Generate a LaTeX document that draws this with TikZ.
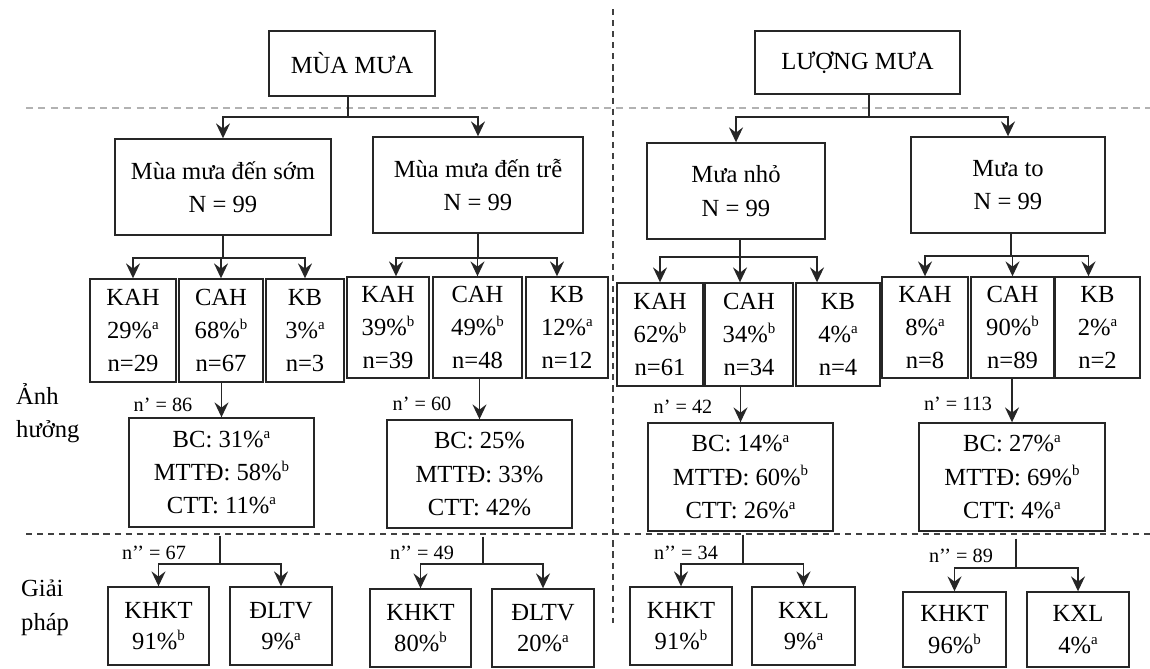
\documentclass[tikz,border=0pt]{standalone}
\usepackage{fontspec}
\setmainfont{Liberation Serif}
\usepackage{tikz}
\usetikzlibrary{arrows.meta,calc}

\newcommand{\supx}[1]{\raisebox{0.8ex}{\fontsize{8.5}{8.5}\selectfont #1}}

\begin{document}
\begin{tikzpicture}[>={Stealth[length=8.5pt,width=8pt,inset=3pt]},
  box/.style={draw=black!85,line width=0.8pt,align=center,inner sep=0pt,font=\fontsize{14}{19}\selectfont},
  nlbl/.style={font=\fontsize{11.5}{13}\selectfont},
  side/.style={anchor=west,align=left,font=\fontsize{14}{19}\selectfont},
  link/.style={line width=0.8pt,black!85}]
  \useasboundingbox (0,0) rectangle (23,-13.36);
  % separators
  \draw[gray!60,line width=1pt,dash pattern=on 4pt off 3pt] (0.52,-2.16)--(23,-2.16);
  \draw[black!75,line width=0.9pt,dash pattern=on 3.5pt off 2.8pt] (0.52,-10.68)--(23,-10.68);
  \draw[black!75,line width=0.9pt,dash pattern=on 3.5pt off 2.8pt] (12.26,-0.18)--(12.26,-12.46);
  \node[side] (anh) at (0.2,-8.26) {Ảnh\\hưởng};
  \node[side] (giai) at (0.3,-12.16) {Giải\\pháp};

  % top
  \node[box,minimum width=3.32cm,minimum height=1.30cm] (mua) at (7.04,-1.27) {MÙA MƯA};
  \node[box,minimum width=4.10cm,minimum height=1.26cm] (luong) at (17.15,-1.25) {LƯỢNG MƯA};

  \node[box,minimum width=4.32cm,minimum height=1.92cm] (som) at (4.46,-3.74) {Mùa mưa đến sớm\\N = 99};
  \node[box,minimum width=4.20cm,minimum height=1.92cm] (tre) at (9.56,-3.70) {Mùa mưa đến trễ\\N = 99};
  \node[box,minimum width=3.56cm,minimum height=1.92cm] (nho) at (14.72,-3.82) {Mưa nhỏ\\N = 99};
  \node[box,minimum width=3.88cm,minimum height=1.92cm] (lon) at (20.16,-3.70) {Mưa to\\N = 99};

  \coordinate (mj) at (6.96,-2.34);
  \draw[link] (mj |- mua.south) -- (mj);
  \draw[link,->] (mj) -| (som.north);
  \draw[link,->] (mj) -| (tre.north);
  \coordinate (lj) at (17.38,-2.34);
  \draw[link] (lj |- luong.south) -- (lj);
  \draw[link,->] (lj) -| (nho.north);
  \draw[link,->] (lj) -| (lon.north);

  % groups
  \node[box,minimum width=1.72cm,minimum height=2.06cm] (kah1) at (2.66,-6.61) {KAH\\29\%\supx{a}\\n=29};
  \node[box,minimum width=1.68cm,minimum height=2.06cm] (cah1) at (4.42,-6.61) {CAH\\68\%\supx{b}\\n=67};
  \node[box,minimum width=1.56cm,minimum height=2.06cm] (kb1) at (6.10,-6.61) {KB\\3\%\supx{a}\\n=3};
  \node[box,minimum width=1.64cm,minimum height=2.02cm] (kah2) at (7.76,-6.55) {KAH\\39\%\supx{b}\\n=39};
  \node[box,minimum width=1.78cm,minimum height=2.02cm] (cah2) at (9.55,-6.55) {CAH\\49\%\supx{b}\\n=48};
  \node[box,minimum width=1.64cm,minimum height=2.02cm] (kb2) at (11.34,-6.55) {KB\\12\%\supx{a}\\n=12};
  \node[box,minimum width=1.72cm,minimum height=2.06cm] (kah3) at (13.20,-6.69) {KAH\\62\%\supx{b}\\n=61};
  \node[box,minimum width=1.76cm,minimum height=2.06cm] (cah3) at (14.98,-6.69) {CAH\\34\%\supx{b}\\n=34};
  \node[box,minimum width=1.68cm,minimum height=2.06cm] (kb3) at (16.76,-6.69) {KB\\4\%\supx{a}\\n=4};
  \node[box,minimum width=1.72cm,minimum height=2.02cm] (kah4) at (18.50,-6.55) {KAH\\8\%\supx{a}\\n=8};
  \node[box,minimum width=1.66cm,minimum height=2.02cm] (cah4) at (20.25,-6.55) {CAH\\90\%\supx{b}\\n=89};
  \node[box,minimum width=1.70cm,minimum height=2.02cm] (kb4) at (21.95,-6.55) {KB\\2\%\supx{a}\\n=2};

  \coordinate (sj) at (4.46,-5.16);
  \draw[link] (som.south) -- (sj);
  \draw[link,->] (sj) -| (kah1.north);
  \draw[link,->] (sj) -| (cah1.north);
  \draw[link,->] (sj) -| (kb1.north);
  \coordinate (tj) at (9.56,-5.16);
  \draw[link] (tre.south) -- (tj);
  \draw[link,->] (tj) -| ([xshift=0.16cm]kah2.north);
  \draw[link,->] (tj) -| (cah2.north);
  \draw[link,->] (tj) -| ([xshift=-0.2cm]kb2.north);
  \coordinate (nj) at (14.80,-5.14);
  \draw[link] (nj |- nho.south) -- (nj);
  \draw[link,->] (nj) -| (kah3.north);
  \draw[link,->] (nj) -| ([xshift=-0.18cm]cah3.north);
  \draw[link,->] (nj) -| ([xshift=-0.42cm]kb3.north);
  \coordinate (oj) at (20.22,-5.12);
  \draw[link] (oj |- lon.south) -- (oj);
  \draw[link,->] (oj) -| (kah4.north);
  \draw[link,->] (oj) -| (cah4.north);
  \draw[link,->] (oj) -| ([xshift=-0.18cm]kb4.north);

  % effects
  \node[box,minimum width=3.70cm,minimum height=2.18cm] (eff1) at (4.43,-9.45) {BC: 31\%\supx{a}\\MTTĐ: 58\%\supx{b}\\CTT: 11\%\supx{a}};
  \node[box,minimum width=3.70cm,minimum height=2.16cm] (eff2) at (9.59,-9.48) {BC: 25\%\\MTTĐ: 33\%\\CTT: 42\%};
  \node[box,minimum width=3.70cm,minimum height=2.16cm] (eff3) at (14.81,-9.54) {BC: 14\%\supx{a}\\MTTĐ: 60\%\supx{b}\\CTT: 26\%\supx{a}};
  \node[box,minimum width=3.72cm,minimum height=2.16cm] (eff4) at (20.24,-9.54) {BC: 27\%\supx{a}\\MTTĐ: 69\%\supx{b}\\CTT: 4\%\supx{a}};
  \draw[link,->] (eff1.north |- cah1.south) -- (eff1.north);
  \draw[link,->] (eff2.north |- cah2.south) -- (eff2.north);
  \draw[link,->] (eff3.north |- cah3.south) -- (eff3.north);
  \draw[link,->] (eff4.north |- cah4.south) -- (eff4.north);
  \node[nlbl] (np1) at (3.26,-8.10) {n’ = 86};
  \node[nlbl] (np2) at (8.44,-8.08) {n’ = 60};
  \node[nlbl] (np3) at (13.66,-8.14) {n’ = 42};
  \node[nlbl] (np4) at (19.16,-8.08) {n’ = 113};

  % solutions
  \node[box,minimum width=2.02cm,minimum height=1.56cm,font=\fontsize{14}{18}\selectfont] (khkt1) at (3.17,-12.52) {KHKT\\91\%\supx{b}};
  \node[box,minimum width=2.04cm,minimum height=1.56cm,font=\fontsize{14}{18}\selectfont] (dltv1) at (5.62,-12.52) {ĐLTV\\9\%\supx{a}};
  \node[box,minimum width=2.02cm,minimum height=1.56cm,font=\fontsize{14}{18}\selectfont] (khkt2) at (8.41,-12.56) {KHKT\\80\%\supx{b}};
  \node[box,minimum width=2.04cm,minimum height=1.56cm,font=\fontsize{14}{18}\selectfont] (dltv2) at (10.86,-12.56) {ĐLTV\\20\%\supx{a}};
  \node[box,minimum width=2.04cm,minimum height=1.56cm,font=\fontsize{14}{18}\selectfont] (khkt3) at (13.62,-12.52) {KHKT\\91\%\supx{b}};
  \node[box,minimum width=2.06cm,minimum height=1.56cm,font=\fontsize{14}{18}\selectfont] (kxl3) at (16.07,-12.52) {KXL\\9\%\supx{a}};
  \node[box,minimum width=2.06cm,minimum height=1.50cm,font=\fontsize{14}{18}\selectfont] (khkt4) at (19.09,-12.59) {KHKT\\96\%\supx{b}};
  \node[box,minimum width=2.04cm,minimum height=1.50cm,font=\fontsize{14}{18}\selectfont] (kxl4) at (21.56,-12.59) {KXL\\4\%\supx{a}};

  \coordinate (ej1) at (4.40,-11.28);
  \draw[link,shorten <=0.16cm] (ej1 |- eff1.south) -- (ej1);
  \draw[link,->] (ej1) -| (khkt1.north);
  \draw[link,->] (ej1) -| (dltv1.north);
  \coordinate (ej2) at (9.66,-11.28);
  \draw[link,shorten <=0.16cm] (ej2 |- eff2.south) -- (ej2);
  \draw[link,->] (ej2) -| (khkt2.north);
  \draw[link,->] (ej2) -| (dltv2.north);
  \coordinate (ej3) at (14.86,-11.28);
  \draw[link,shorten <=0.06cm] (ej3 |- eff3.south) -- (ej3);
  \draw[link,->] (ej3) -| (khkt3.north);
  \draw[link,->] (ej3) -| (kxl3.north);
  \coordinate (ej4) at (20.32,-11.36);
  \draw[link,shorten <=0.14cm] (ej4 |- eff4.south) -- (ej4);
  \draw[link,->] (ej4) -| (khkt4.north);
  \draw[link,->] (ej4) -| (kxl4.north);
  \node[nlbl] (npp1) at (3.08,-11.06) {n’’ = 67};
  \node[nlbl] (npp2) at (8.44,-11.06) {n’’ = 49};
  \node[nlbl] (npp3) at (13.72,-11.06) {n’’ = 34};
  \node[nlbl] (npp4) at (19.22,-11.12) {n’’ = 89};
\end{tikzpicture}
\end{document}
